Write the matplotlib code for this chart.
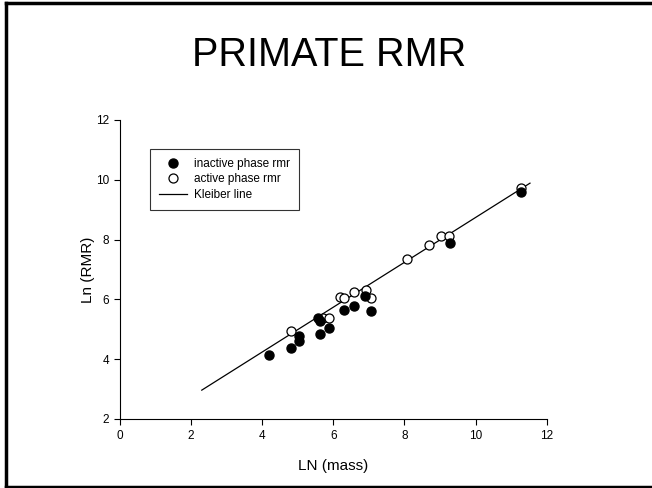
import matplotlib
matplotlib.use('Agg')
import matplotlib.pyplot as plt
import numpy as np
from matplotlib.lines import Line2D

plt.rcParams['font.family'] = ['Liberation Sans', 'DejaVu Sans']

# inactive phase rmr (filled)
inactive_mass = [4.20, 4.80, 5.03, 5.04, 5.56, 5.62, 5.63, 5.87, 6.30, 6.57, 6.89, 7.05, 9.29, 11.28]
inactive_rmr = [4.14, 4.37, 4.61, 4.79, 5.37, 5.29, 4.85, 5.04, 5.65, 5.77, 6.10, 5.61, 7.90, 9.58]

# active phase rmr (open)
active_mass = [4.80, 5.70, 5.87, 6.19, 6.30, 6.57, 6.93, 7.06, 8.06, 8.70, 9.03, 9.24, 11.27]
active_rmr = [4.94, 5.38, 5.37, 6.09, 6.04, 6.24, 6.30, 6.06, 7.35, 7.81, 8.13, 8.11, 9.71]

# Kleiber line
kleiber_x = [2.30, 11.53]
kleiber_slope = 0.75
kleiber_icpt = 1.24

W, H = 652, 488
fig = plt.figure(figsize=(W / 100, H / 100), dpi=100)

# slide border (left, top, bottom; right edge is cut off)
fig.add_artist(Line2D([5.5 / W, 5.5 / W], [1 - 2.5 / H, 1.5 / H], transform=fig.transFigure,
                      color='black', linewidth=2.5))
fig.add_artist(Line2D([5.5 / W, 1.0], [1 - 2.5 / H, 1 - 2.5 / H], transform=fig.transFigure,
                      color='black', linewidth=2.5))
fig.add_artist(Line2D([5.5 / W, 1.0], [1.5 / H, 1.5 / H], transform=fig.transFigure,
                      color='black', linewidth=2.5))

fig.text(329.5 / W, 1 - 55 / H, 'PRIMATE RMR', ha='center', va='center', fontsize=28.5)

ax = fig.add_axes([0.184, 0.1414, 0.6545, 0.6127])

kx = np.array(kleiber_x)
ax.plot(kx, kleiber_icpt + kleiber_slope * kx, color='black', linewidth=0.9, label='Kleiber line', zorder=2)
ax.plot(active_mass, active_rmr, 'o', markersize=6.5, markerfacecolor='white',
        markeredgecolor='black', markeredgewidth=0.9, label='active phase rmr', zorder=3)
ax.plot(inactive_mass, inactive_rmr, 'o', markersize=6.5, color='black',
        label='inactive phase rmr', zorder=4)

ax.set_xlim(0, 12)
ax.set_ylim(2, 12)
ax.set_xticks(range(0, 13, 2))
ax.set_yticks(range(2, 13, 2))
ax.spines['top'].set_visible(False)
ax.spines['right'].set_visible(False)
ax.tick_params(direction='out', length=4, width=0.8, labelsize=8.5, pad=4)
ax.set_xlabel('LN (mass)', fontsize=11, labelpad=12)
ax.set_ylabel('Ln (RMR)', fontsize=11, labelpad=0.5)

handles, labels = ax.get_legend_handles_labels()
order = [2, 1, 0]
leg = ax.legend([handles[i] for i in order], [labels[i] for i in order],
                loc='upper left', bbox_to_anchor=(0.07, 0.903), borderaxespad=0,
                fontsize=8.5, frameon=True, fancybox=False, handlelength=2.4,
                handletextpad=0.6, labelspacing=0.3, borderpad=0.75)
leg.get_frame().set_edgecolor('black')
leg.get_frame().set_linewidth(0.8)

fig.savefig('out.png', dpi=100)
